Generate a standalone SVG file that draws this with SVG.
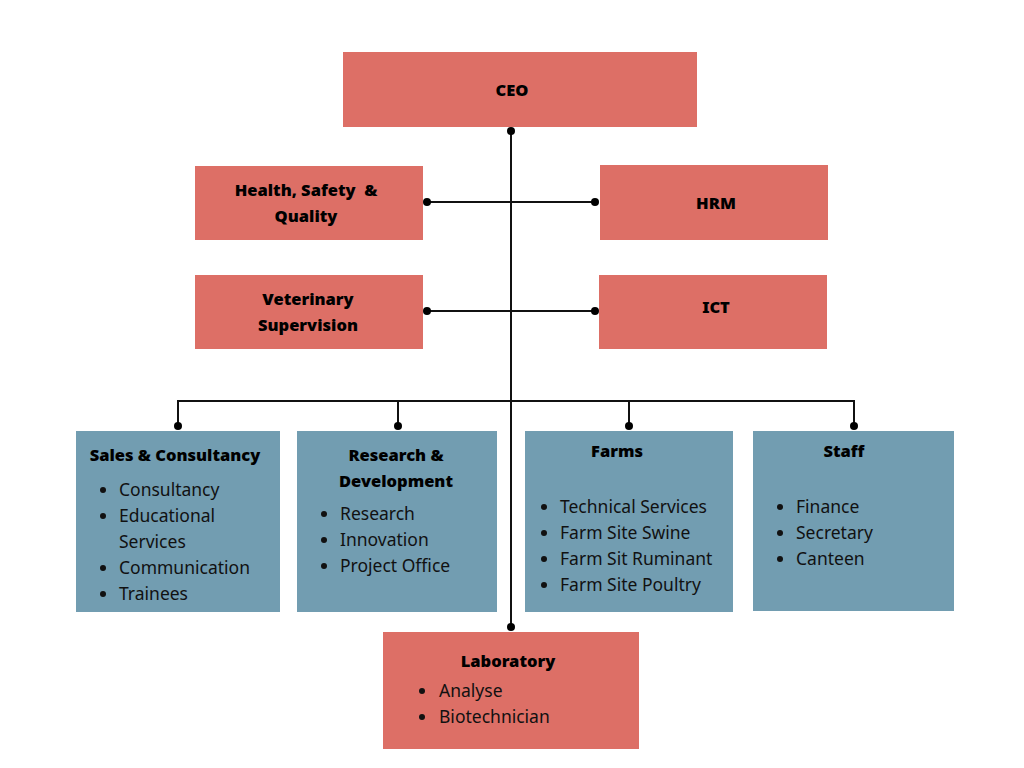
<svg xmlns="http://www.w3.org/2000/svg" width="1024" height="768" viewBox="0 0 1024 768">
<style>
.red{fill:#DD6F66}
.blue{fill:#729DB1}
.t{font-family:"Noto Sans","DejaVu Sans",sans-serif;font-weight:900;font-size:16.5px;fill:#000;text-anchor:middle;white-space:pre}
.b{font-family:"Noto Sans","DejaVu Sans",sans-serif;font-size:17.5px;fill:#111}
.ln{stroke:#111;stroke-width:2;fill:none}
.dot{fill:#000}
</style>
<rect width="1024" height="768" fill="#fff"/>
<g id="connectors">
<path class="ln" d="M511 131V627M427 202H595M427 311H595M178 426V401H854V426M398 401V426M629 401V426"/>
<circle class="dot" cx="511" cy="131" r="4"/>
<circle class="dot" cx="511" cy="627" r="4"/>
<circle class="dot" cx="427" cy="202" r="4"/>
<circle class="dot" cx="595" cy="202" r="4"/>
<circle class="dot" cx="427" cy="311" r="4"/>
<circle class="dot" cx="595" cy="311" r="4"/>
<circle class="dot" cx="178" cy="426" r="4"/>
<circle class="dot" cx="398" cy="426" r="4"/>
<circle class="dot" cx="629" cy="426" r="4"/>
<circle class="dot" cx="854" cy="426" r="4"/>
</g>
<g id="ceo"><rect class="red" x="343" y="52" width="354" height="75"/><text class="t" x="512" y="96">CEO</text></g>
<g id="hsq"><rect class="red" x="195" y="166" width="228" height="74"/><text class="t" x="306" y="196" xml:space="preserve">Health, Safety  &amp;</text><text class="t" x="306" y="222">Quality</text></g>
<g id="hrm"><rect class="red" x="600" y="165" width="228" height="75"/><text class="t" x="716" y="209">HRM</text></g>
<g id="vet"><rect class="red" x="195" y="275" width="228" height="74"/><text class="t" x="308" y="305">Veterinary</text><text class="t" x="308" y="331">Supervision</text></g>
<g id="ict"><rect class="red" x="599" y="275" width="228" height="74"/><text class="t" x="716" y="313">ICT</text></g>
<g id="sales"><rect class="blue" x="76" y="431" width="204" height="181"/>
<text class="t" x="175" y="461">Sales &amp; Consultancy</text>
<g class="b"><circle cx="103" cy="490" r="3"/><text x="119" y="496">Consultancy</text>
<circle cx="103" cy="516" r="3"/><text x="119" y="522">Educational</text>
<text x="119" y="548">Services</text>
<circle cx="103" cy="568" r="3"/><text x="119" y="574">Communication</text>
<circle cx="103" cy="594" r="3"/><text x="119" y="600">Trainees</text></g></g>
<g id="rd"><rect class="blue" x="297" y="431" width="200" height="181"/>
<text class="t" x="396" y="461">Research &amp;</text><text class="t" x="396" y="487">Development</text>
<g class="b"><circle cx="324" cy="514" r="3"/><text x="340" y="520">Research</text>
<circle cx="324" cy="540" r="3"/><text x="340" y="546">Innovation</text>
<circle cx="324" cy="566" r="3"/><text x="340" y="572">Project Office</text></g></g>
<g id="farms"><rect class="blue" x="525" y="431" width="208" height="181"/>
<text class="t" x="617" y="457">Farms</text>
<g class="b"><circle cx="544" cy="507" r="3"/><text x="560" y="513">Technical Services</text>
<circle cx="544" cy="533" r="3"/><text x="560" y="539">Farm Site Swine</text>
<circle cx="544" cy="559" r="3"/><text x="560" y="565">Farm Sit Ruminant</text>
<circle cx="544" cy="585" r="3"/><text x="560" y="591">Farm Site Poultry</text></g></g>
<g id="staff"><rect class="blue" x="753" y="431" width="201" height="180"/>
<text class="t" x="844" y="457">Staff</text>
<g class="b"><circle cx="780" cy="507" r="3"/><text x="796" y="513">Finance</text>
<circle cx="780" cy="533" r="3"/><text x="796" y="539">Secretary</text>
<circle cx="780" cy="559" r="3"/><text x="796" y="565">Canteen</text></g></g>
<g id="lab"><rect class="red" x="383" y="632" width="256" height="117"/>
<text class="t" x="508" y="667">Laboratory</text>
<g class="b"><circle cx="422" cy="691" r="3"/><text x="439" y="697">Analyse</text>
<circle cx="422" cy="717" r="3"/><text x="439" y="723">Biotechnician</text></g></g>
</svg>
